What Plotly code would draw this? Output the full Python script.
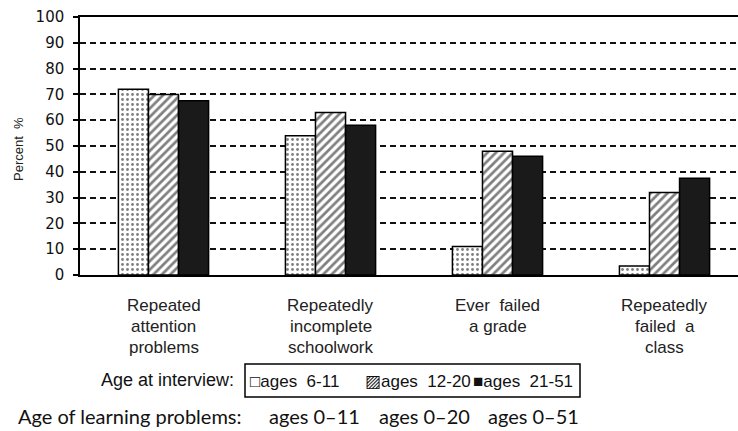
import plotly.graph_objects as go

categories = ["Repeated attention problems", "Repeatedly incomplete schoolwork",
              "Ever failed a grade", "Repeatedly failed a class"]
category_lines = [["Repeated", "attention", "problems"],
                  ["Repeatedly", "incomplete", "schoolwork"],
                  ["Ever  failed", "a grade"],
                  ["Repeatedly", "failed  a", "class"]]
series_names = ["ages  6-11", "ages  12-20", "ages  21-51"]
series_symbols = ["\u25a1", "\u25a8", "\u25a0"]
ages_6_11 = [72, 54, 11, 3.5]
ages_12_20 = [70, 63, 48, 32]
ages_21_51 = [67.5, 58, 46, 37.5]
y_ticks = [0, 10, 20, 30, 40, 50, 60, 70, 80, 90, 100]
learning_parts = ["Age of learning problems:", "ages 0\u201311", "ages 0\u201320", "ages 0\u201351"]

# pixel -> paper helpers (plot area: x 80..738, y 17..275)
def xp(px):
    return (px - 80) / 658

def yp(py):
    return (275 - py) / 258

fig = go.Figure()
line = dict(color="black", width=1.5)
fig.add_trace(go.Bar(name=series_names[0], x=categories, y=ages_6_11,
                     marker=dict(color="white", line=line,
                                 pattern=dict(shape=".", fgcolor="black", bgcolor="white",
                                              size=5, solidity=0.25))))
fig.add_trace(go.Bar(name=series_names[1], x=categories, y=ages_12_20,
                     marker=dict(color="white", line=line,
                                 pattern=dict(shape="/", fgcolor="black", bgcolor="white",
                                              size=6, solidity=0.45))))
fig.add_trace(go.Bar(name=series_names[2], x=categories, y=ages_21_51,
                     marker=dict(color="#1a1a1a", line=line)))

annotations = []
for cat, lines in zip(categories, category_lines):
    for i, t in enumerate(lines):
        annotations.append(dict(x=cat, xref="x", y=yp(305 + 21 * i), yref="paper",
                                text=t, showarrow=False, xanchor="center", yanchor="middle",
                                font=dict(family="Liberation Sans", size=17, color="#222")))

# "Age at interview" label and legend box
annotations.append(dict(x=xp(99), xref="paper", y=yp(380), yref="paper",
                        text="Age at interview:", showarrow=False, xanchor="left", yanchor="middle",
                        font=dict(family="Liberation Sans", size=18, color="#111")))
legend_x = [248, 363, 471]
for sym, name, lx in zip(series_symbols, series_names, legend_x):
    annotations.append(dict(x=xp(lx), xref="paper", y=yp(381), yref="paper",
                            text=sym + name, showarrow=False, xanchor="left", yanchor="middle",
                            font=dict(family="Liberation Sans", size=17, color="#111")))

learning_x = [16, 267, 377, 486]
for t, lx in zip(learning_parts, learning_x):
    annotations.append(dict(x=xp(lx), xref="paper", y=yp(416), yref="paper",
                            text=t, showarrow=False, xanchor="left", yanchor="middle",
                            font=dict(family="Lato", size=20, color="#111")))

annotations.append(dict(x=xp(18), xref="paper", y=yp(149), yref="paper",
                        text="Percent  %", showarrow=False, textangle=-90,
                        xanchor="center", yanchor="middle",
                        font=dict(family="Liberation Sans", size=13, color="#222")))

shapes = [dict(type="rect", xref="paper", yref="paper",
               x0=xp(245), x1=xp(580), y0=yp(364), y1=yp(397),
               line=dict(color="black", width=1.5), fillcolor="rgba(0,0,0,0)")]

fig.update_layout(
    width=738, height=431,
    margin=dict(l=80, r=0, t=17, b=156, autoexpand=False),
    paper_bgcolor="white", plot_bgcolor="white",
    barmode="group", bargap=0.46, bargroupgap=0,
    showlegend=False,
    annotations=annotations,
    shapes=shapes,
    xaxis=dict(range=[-0.5, 3.44], showticklabels=False, ticks="",
               showline=True, linecolor="black", linewidth=2, mirror=True,
               showgrid=False, zeroline=False, automargin=False),
    yaxis=dict(range=[0, 100], tickvals=y_ticks, ticks="outside", ticklen=5,
               tickcolor="black", tickwidth=1.5, ticklabelstandoff=6,
               showline=True, linecolor="black", linewidth=1.5,
               showgrid=True, gridcolor="#111", gridwidth=1.8, griddash="6px,4px",
               zeroline=False, automargin=False,
               tickfont=dict(family="DejaVu Sans", size=15, color="#111")),
)
fig.write_html("out.html", config={"displayModeBar": False},
               post_script="document.body.style.margin='0';document.body.style.overflow='hidden';")
